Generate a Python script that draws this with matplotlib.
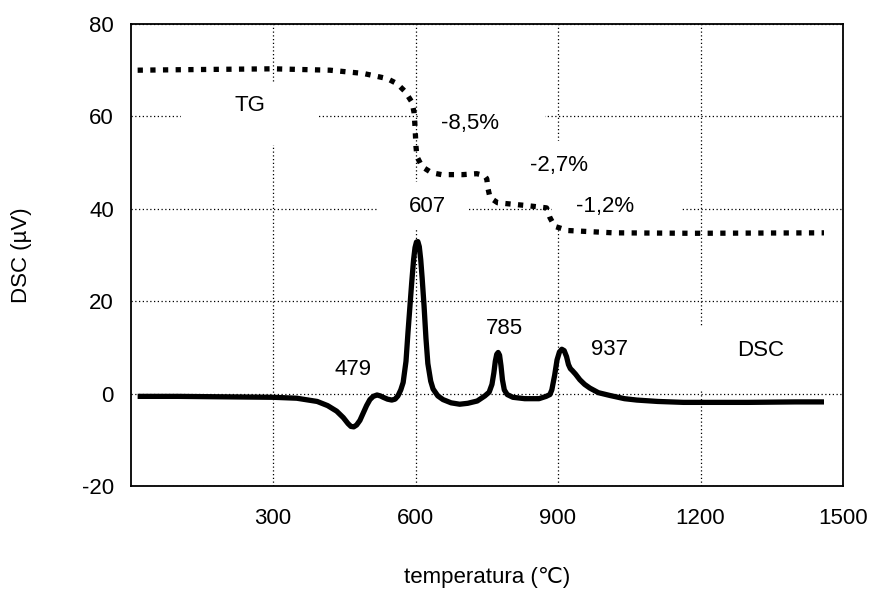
import matplotlib
matplotlib.use("Agg")
import matplotlib.pyplot as plt
from matplotlib.patches import Rectangle

plt.rcParams['font.family'] = ['Liberation Sans', 'DejaVu Sans']
plt.rcParams['axes.unicode_minus'] = False

# DSC signal (µV) against temperature (°C)
dsc_temp = [15, 100, 200, 300, 350, 393, 415, 434, 448, 458, 464, 470, 476, 483, 490,
            497, 504, 511, 519, 526, 532, 541, 550, 557, 563, 569, 574, 580, 584, 588,
            592, 596, 599, 602, 605, 608, 611, 614, 618, 622, 626, 632, 637, 647, 658,
            675, 693, 710, 730, 746, 755, 761, 765, 768, 771, 774, 777, 780, 783, 787,
            793, 805, 830, 860, 875, 883, 887, 893, 898, 903, 908, 913, 918, 922, 926,
            930, 937, 946, 956, 967, 985, 1009, 1040, 1066, 1110, 1164, 1300, 1400, 1460]
dsc_value = [-0.6, -0.6, -0.7, -0.8, -1.0, -1.7, -2.6, -3.8, -5.2, -6.5, -7.1, -7.2, -6.8, -5.8, -4.2,
             -2.6, -1.3, -0.6, -0.3, -0.5, -0.8, -1.2, -1.4, -1.2, -0.5, 0.8, 2.4, 7.0, 13.0, 18.5,
             24.0, 29.0, 31.6, 32.8, 32.9, 31.8, 29.0, 25.0, 19.0, 12.0, 6.5, 2.7, 1.0, -0.5, -1.3,
             -2.0, -2.3, -2.1, -1.6, -0.5, 0.3, 2.0, 4.5, 7.0, 8.5, 8.9, 8.3, 6.0, 3.0, 0.8,
             -0.2, -0.8, -1.1, -1.1, -0.6, -0.2, 0.8, 4.0, 7.3, 9.0, 9.6, 9.3, 8.0, 6.3, 5.4,
             5.0, 4.2, 3.0, 2.0, 1.2, 0.2, -0.4, -1.1, -1.4, -1.7, -1.9, -1.9, -1.8, -1.8]

# TG curve plotted on the same scale
tg_temp = [15, 100, 200, 300, 420, 490, 540, 561, 578, 593, 597, 599, 601, 603, 614,
           634, 655, 700, 729, 745, 750, 753, 757, 773, 834, 876, 883, 893, 921, 1016, 1184, 1460]
tg_value = [70.0, 70.1, 70.2, 70.3, 70.0, 69.3, 68.2, 67.1, 65.4, 63.0, 60.8, 57.8, 53.5, 51.3, 49.1,
            47.8, 47.4, 47.4, 47.6, 47.2, 46.5, 44.2, 42.4, 41.3, 40.7, 40.2, 38.1, 36.2, 35.3, 34.8, 34.7, 34.8]

x_ticks = [300, 600, 900, 1200, 1500]
y_ticks = [-20, 0, 20, 40, 60, 80]

# annotation text, anchor (T, value) and white backing box (x0, x1, y0, y1)
notes = [
    ("TG",    251, 62.3, (106, 397, 53.9, 67.5)),
    ("DSC",  1326,  9.3, (1181, 1472, 0.9, 14.5)),
    ("607",   626, 40.6, (519, 710, 35.9, 45.7)),
    ("-8,5%", 714, 58.5, (605, 872, 53.7, 63.4)),
    ("-2,7%", 903, 49.4, (771, 1038, 44.8, 54.6)),
    ("-1,2%", 1000, 40.6, (887, 1158, 35.9, 45.7)),
    ("785",   787, 14.0, (691, 883, 9.1, 18.8)),
    ("937",  1009,  9.6, (912, 1104, 4.8, 14.5)),
    ("479",   468,  5.2, (373, 565, 0.4, 10.2)),
]

FS = 16

fig = plt.figure(figsize=(8.74, 5.91), dpi=100)
ax = fig.add_axes([130.5 / 874, 1 - 486 / 591, (843 - 130.5) / 874, (486 - 24) / 591])

ax.set_xlim(0, 1500)
ax.set_ylim(-20, 80)
ax.set_xticks(x_ticks)
ax.set_yticks(y_ticks)
ax.tick_params(length=0, labelsize=FS)
ax.tick_params(axis='x', pad=16)
ax.tick_params(axis='y', pad=12)
ax.grid(True, color='black', linestyle=(0, (1, 2)), linewidth=0.9, zorder=0)
ax.set_axisbelow(True)
for s in ax.spines.values():
    s.set_linewidth(1.3)
    s.set_color('black')
    s.set_zorder(5)

for label, tx, ty, (x0, x1, y0, y1) in notes:
    ax.add_patch(Rectangle((x0, y0), x1 - x0, y1 - y0, facecolor='white',
                           edgecolor='none', zorder=1))
    ax.text(tx, ty, label, ha='center', va='center', fontsize=FS, zorder=4)

ax.plot(tg_temp, tg_value, color='black', linewidth=3.8,
        linestyle=(0, (1, 1.4)), dash_capstyle='butt', zorder=3)
ax.plot(dsc_temp, dsc_value, color='black', linewidth=3.8,
        solid_joinstyle='round', solid_capstyle='butt', zorder=3)

fig.text(22 / 874, 1 - 255 / 591, "DSC (µV)", rotation=90, ha='center', va='center', fontsize=FS)
fig.text(487 / 874, 1 - 578 / 591, "temperatura (℃)", ha='center', va='center', fontsize=FS)

fig.savefig("out.png", dpi=100)
